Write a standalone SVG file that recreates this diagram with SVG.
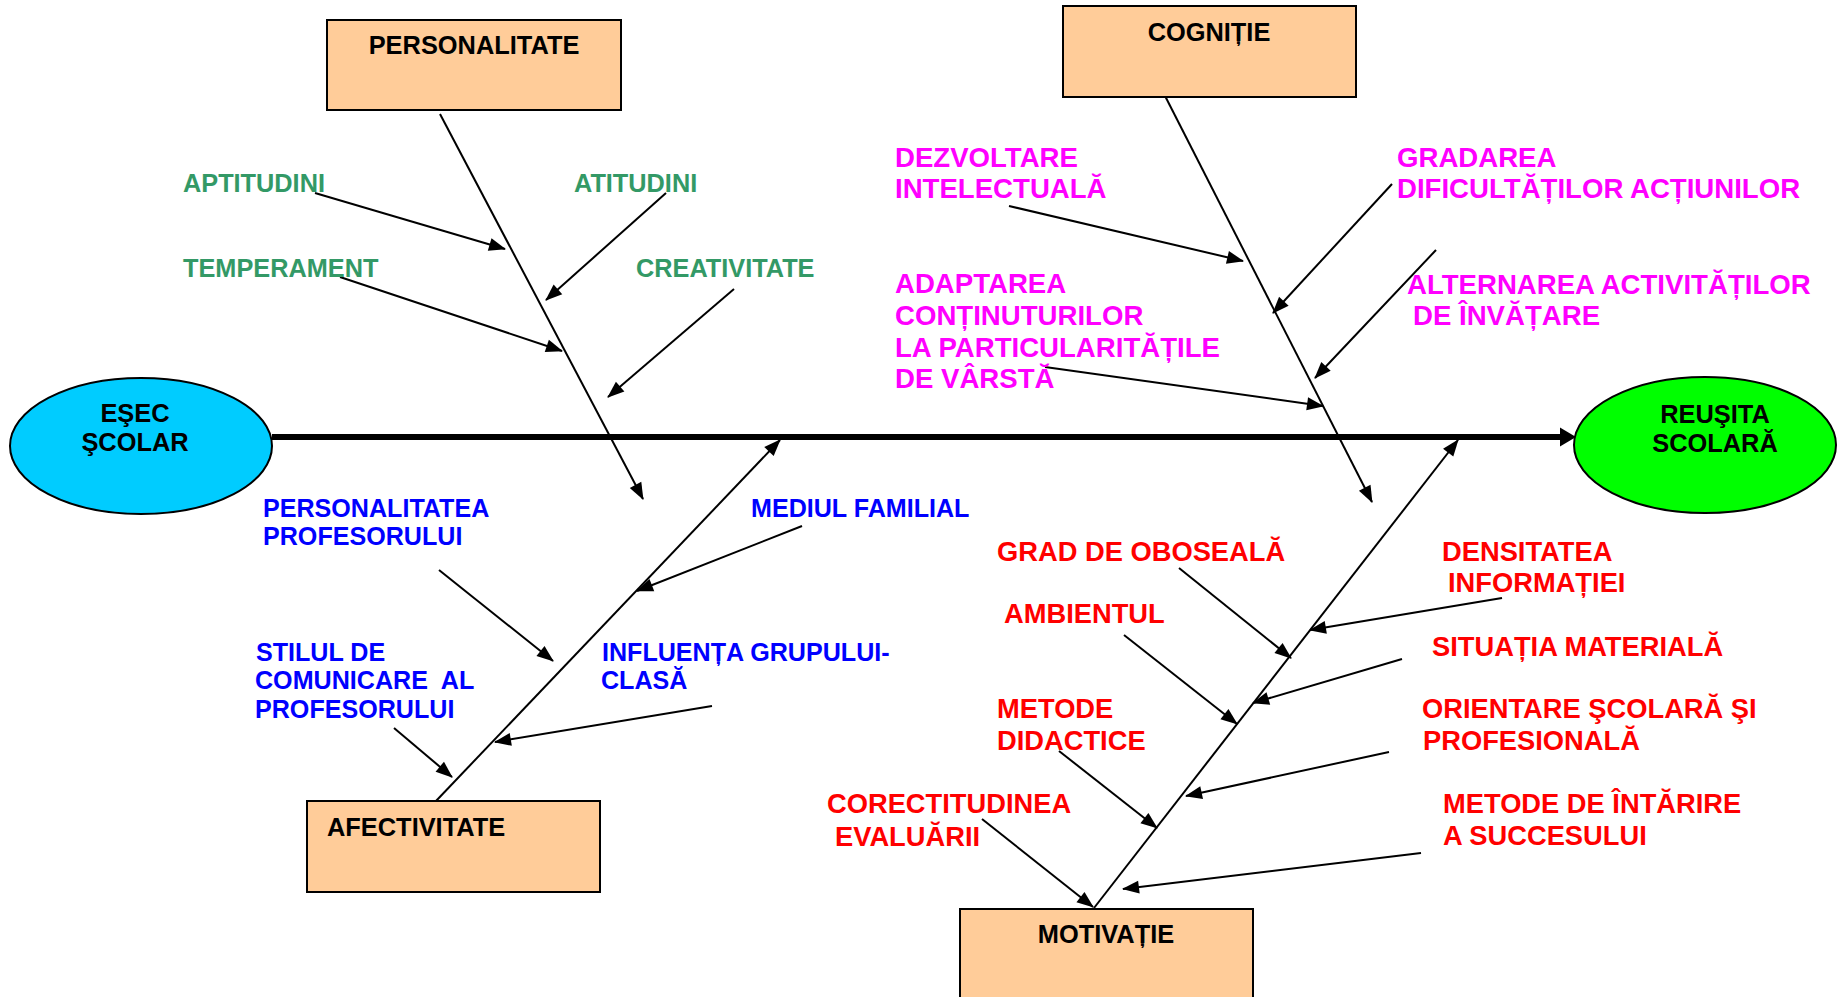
<svg xmlns="http://www.w3.org/2000/svg" width="1839" height="997" viewBox="0 0 1839 997">
<style>
text{font-family:"Liberation Sans",Arial,sans-serif;font-weight:bold;}
.lbl{font-size:25.4px;fill:#000;}
.g{font-size:25.3px;fill:#339966;}
.b{font-size:25.1px;fill:#0000FF;}
.m{font-size:27.6px;fill:#FF00FF;}
.r{font-size:27.3px;fill:#FF0000;}
.box{fill:#FFCC99;stroke:#000;stroke-width:2;}
.ln{stroke:#000;stroke-width:2;fill:none;marker-end:url(#ah);}
</style>
<defs>
<marker id="ah" markerUnits="userSpaceOnUse" markerWidth="20" markerHeight="14" refX="16" refY="6.5" orient="auto" overflow="visible">
<path d="M0,0 L17,6.5 L0,13 z" fill="#000"/>
</marker>
<marker id="ahBig" markerUnits="userSpaceOnUse" markerWidth="20" markerHeight="20" refX="5" refY="9.5" orient="auto" overflow="visible">
<path d="M0,0 L16,9.5 L0,19 z" fill="#000"/>
</marker>
</defs>
<rect width="1839" height="997" fill="#fff"/>

<g id="connectors">
<line x1="272" y1="437" x2="1565" y2="437" stroke="#000" stroke-width="6" marker-end="url(#ahBig)"/>
<line class="ln" x1="440" y1="114" x2="643" y2="499"/>
<line class="ln" x1="1161" y1="88" x2="1372" y2="502"/>
<line class="ln" x1="436" y1="801" x2="780" y2="440"/>
<line class="ln" x1="1094" y1="908" x2="1458" y2="440"/>
<line class="ln" x1="315" y1="193" x2="505" y2="249"/>
<line class="ln" x1="666" y1="193" x2="546" y2="300"/>
<line class="ln" x1="340" y1="277" x2="562" y2="351"/>
<line class="ln" x1="734" y1="289" x2="608" y2="397"/>
<line class="ln" x1="1009" y1="206" x2="1243" y2="261"/>
<line class="ln" x1="1392" y1="184" x2="1273" y2="313"/>
<line class="ln" x1="1436" y1="250" x2="1315" y2="378"/>
<line class="ln" x1="1045" y1="367" x2="1323" y2="406"/>
<line class="ln" x1="439" y1="570" x2="553" y2="661"/>
<line class="ln" x1="802" y1="526" x2="637" y2="591"/>
<line class="ln" x1="394" y1="728" x2="452" y2="777"/>
<line class="ln" x1="712" y1="706" x2="495" y2="742"/>
<line class="ln" x1="1179" y1="568" x2="1291" y2="658"/>
<line class="ln" x1="1502" y1="598" x2="1310" y2="630"/>
<line class="ln" x1="1124" y1="635" x2="1237" y2="724"/>
<line class="ln" x1="1402" y1="659" x2="1253" y2="703"/>
<line class="ln" x1="1059" y1="751" x2="1157" y2="828"/>
<line class="ln" x1="1389" y1="752" x2="1186" y2="796"/>
<line class="ln" x1="982" y1="819" x2="1093" y2="907"/>
<line class="ln" x1="1421" y1="853" x2="1123" y2="889"/>
</g>

<g id="esec">
<ellipse cx="141" cy="446" rx="131" ry="68" fill="#00CCFF" stroke="#000" stroke-width="2"/>
<text class="lbl" x="135" y="422" text-anchor="middle">EŞEC</text>
<text class="lbl" x="135" y="451" text-anchor="middle">ŞCOLAR</text>
</g>
<g id="reusita">
<ellipse cx="1705" cy="445" rx="131" ry="68" fill="#00FF00" stroke="#000" stroke-width="2"/>
<text class="lbl" x="1715" y="423" text-anchor="middle">REUŞITA</text>
<text class="lbl" x="1715" y="452" text-anchor="middle">SCOLARĂ</text>
</g>
<g id="personalitate">
<rect class="box" x="327" y="20" width="294" height="90"/>
<text class="lbl" x="474" y="54" text-anchor="middle">PERSONALITATE</text>
</g>
<g id="cognitie">
<rect class="box" x="1063" y="6" width="293" height="91"/>
<text class="lbl" x="1209" y="41" text-anchor="middle">COGNIȚIE</text>
</g>
<g id="afectivitate">
<rect class="box" x="307" y="801" width="293" height="91"/>
<text class="lbl" x="327" y="836">AFECTIVITATE</text>
</g>
<g id="motivatie">
<rect class="box" x="960" y="909" width="293" height="100"/>
<text class="lbl" x="1106" y="943" text-anchor="middle">MOTIVAȚIE</text>
</g>

<g id="aptitudini"><text class="g" x="183" y="192">APTITUDINI</text></g>
<g id="atitudini"><text class="g" x="574" y="192">ATITUDINI</text></g>
<g id="temperament"><text class="g" x="183" y="277">TEMPERAMENT</text></g>
<g id="creativitate"><text class="g" x="636" y="277">CREATIVITATE</text></g>

<g id="dezvoltare"><text class="m" x="895" y="167">DEZVOLTARE</text><text class="m" x="895" y="198">INTELECTUALĂ</text></g>
<g id="gradarea"><text class="m" x="1397" y="167">GRADAREA</text><text class="m" x="1397" y="198">DIFICULTĂȚILOR ACȚIUNILOR</text></g>
<g id="adaptarea"><text class="m" x="895" y="293">ADAPTAREA</text><text class="m" x="895" y="325">CONȚINUTURILOR</text><text class="m" x="895" y="357">LA PARTICULARITĂȚILE</text><text class="m" x="895" y="388">DE VÂRSTĂ</text></g>
<g id="alternarea"><text class="m" x="1407" y="294">ALTERNAREA ACTIVITĂȚILOR</text><text class="m" x="1413" y="325">DE ÎNVĂȚARE</text></g>

<g id="personalitatea-prof"><text class="b" x="263" y="517">PERSONALITATEA</text><text class="b" x="263" y="545">PROFESORULUI</text></g>
<g id="mediul"><text class="b" x="751" y="517">MEDIUL FAMILIAL</text></g>
<g id="stilul"><text class="b" x="256" y="661">STILUL DE</text><text class="b" x="255" y="689" xml:space="preserve">COMUNICARE  AL</text><text class="b" x="255" y="718">PROFESORULUI</text></g>
<g id="influenta"><text class="b" x="602" y="661">INFLUENȚA GRUPULUI-</text><text class="b" x="601" y="689">CLASĂ</text></g>

<g id="grad"><text class="r" x="997" y="561">GRAD DE OBOSEALĂ</text></g>
<g id="ambientul"><text class="r" x="1004" y="623">AMBIENTUL</text></g>
<g id="metode-did"><text class="r" x="997" y="718">METODE</text><text class="r" x="997" y="750">DIDACTICE</text></g>
<g id="corectitudinea"><text class="r" x="827" y="813">CORECTITUDINEA</text><text class="r" x="835" y="846">EVALUĂRII</text></g>
<g id="densitatea"><text class="r" x="1442" y="561">DENSITATEA</text><text class="r" x="1448" y="592">INFORMAȚIEI</text></g>
<g id="situatia"><text class="r" x="1432" y="656">SITUAȚIA MATERIALĂ</text></g>
<g id="orientare"><text class="r" x="1422" y="718">ORIENTARE ŞCOLARĂ ŞI</text><text class="r" x="1423" y="750">PROFESIONALĂ</text></g>
<g id="metode-int"><text class="r" x="1443" y="813">METODE DE ÎNTĂRIRE</text><text class="r" x="1443" y="845">A SUCCESULUI</text></g>
</svg>
